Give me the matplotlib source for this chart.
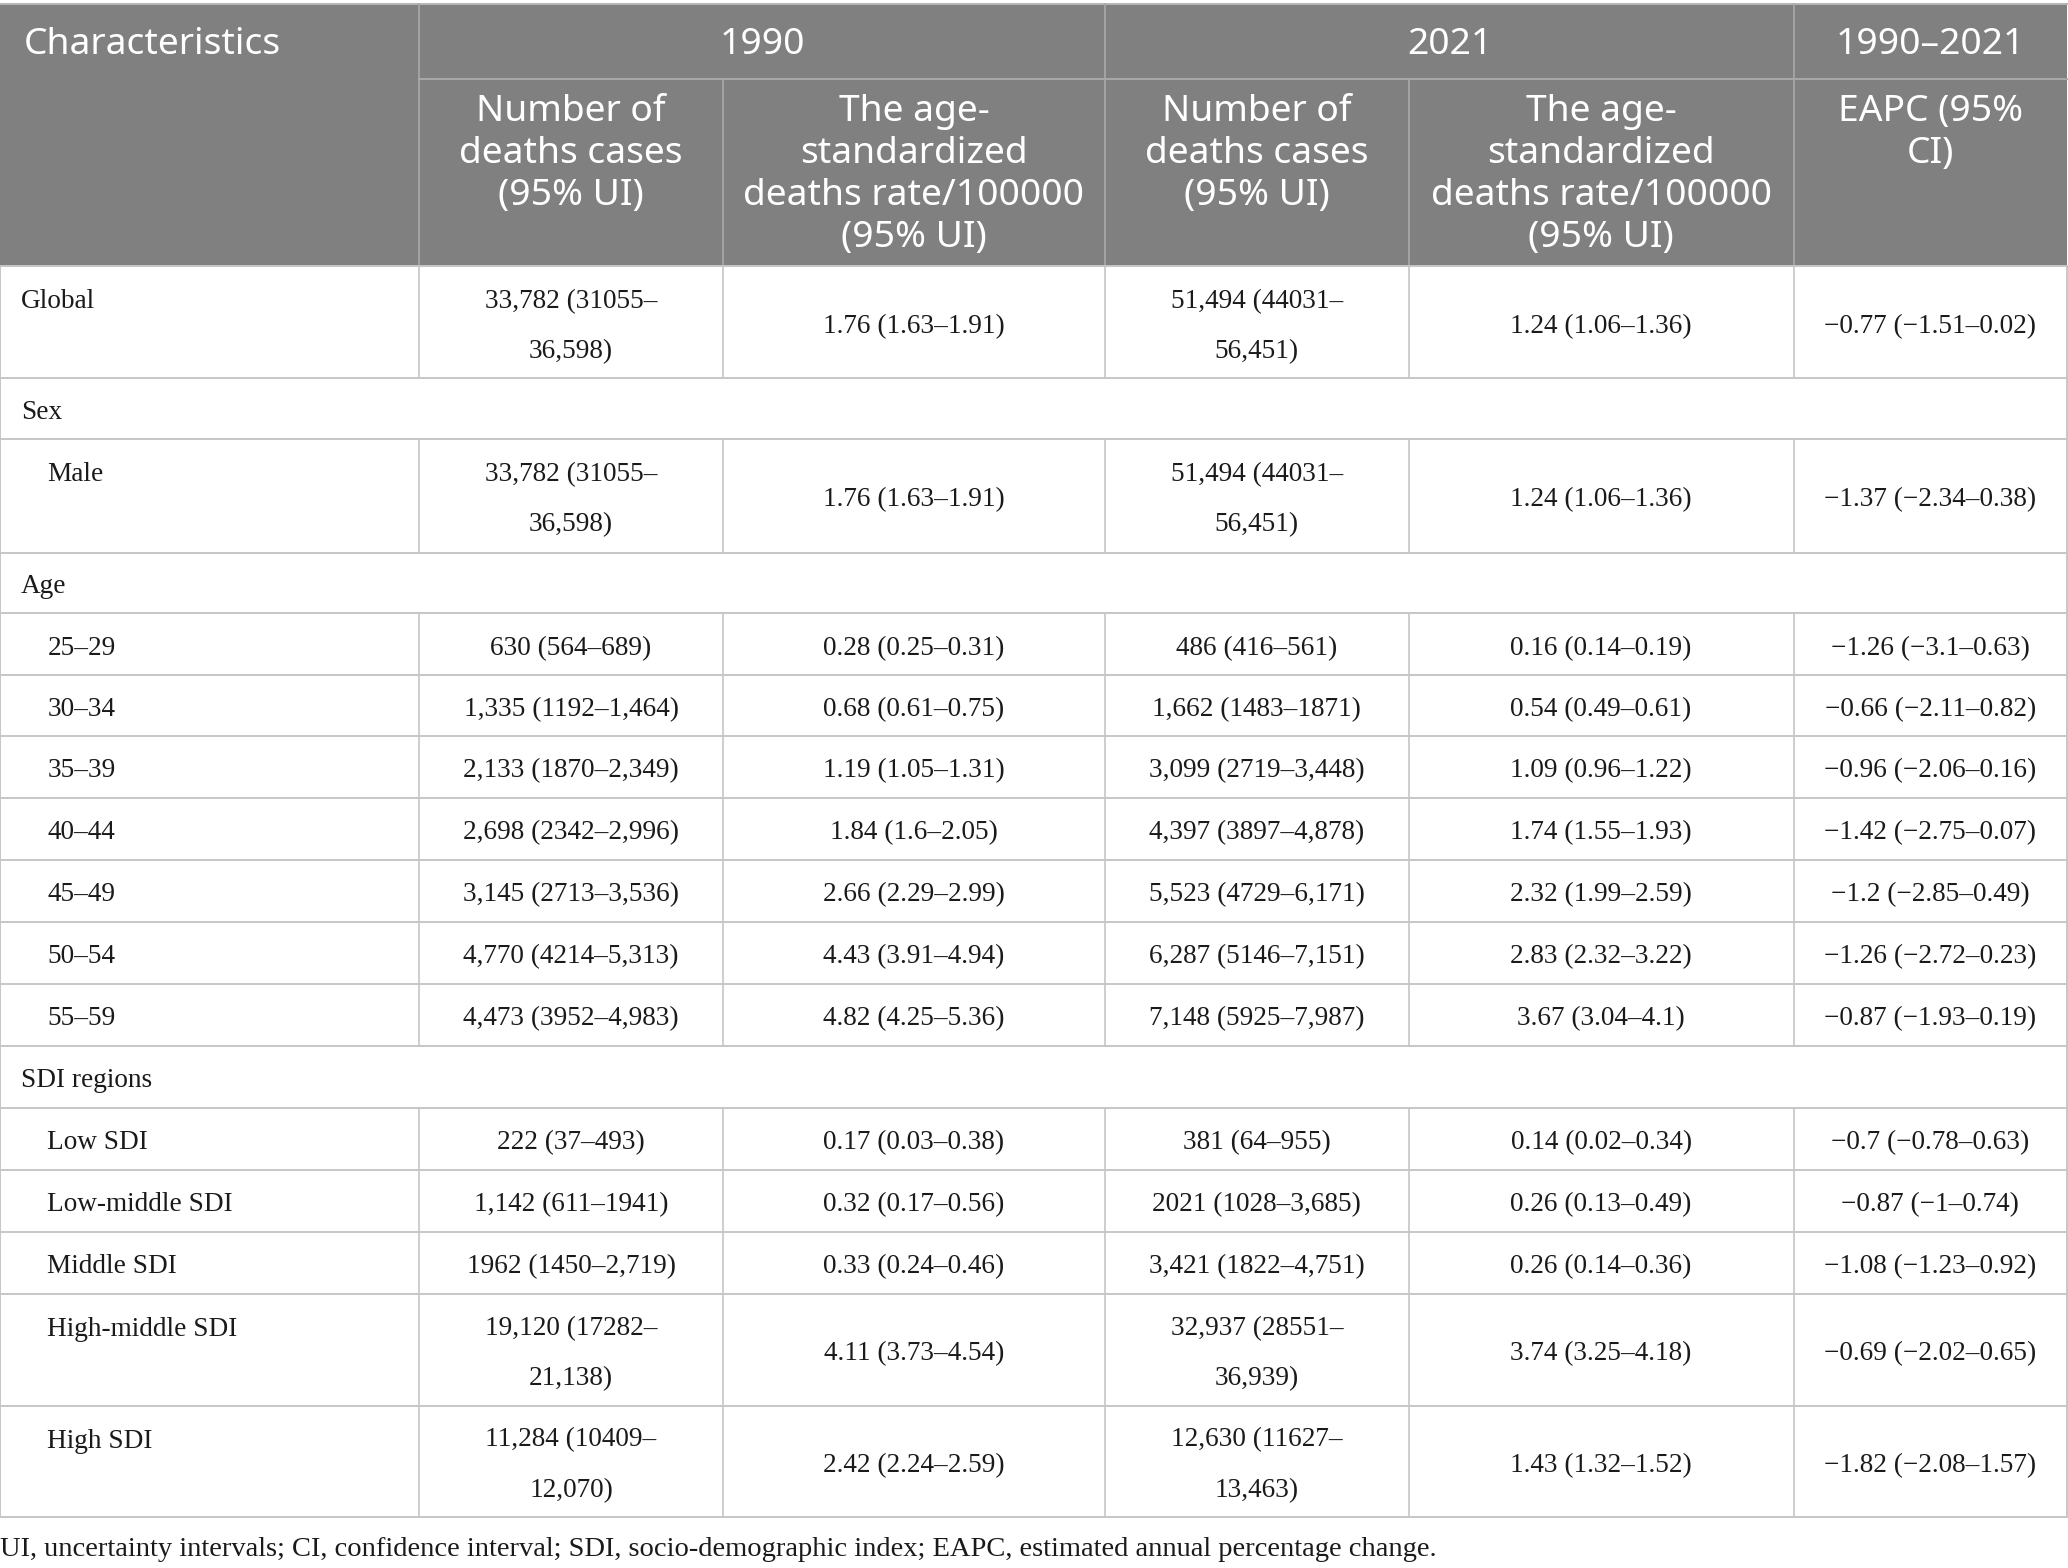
import matplotlib.pyplot as plt
from matplotlib.patches import Rectangle

# table text
row_labels = ["Global", "Sex", "Male", "Age", "25–29", "30–34", "35–39", "40–44",
              "45–49", "50–54", "55–59", "SDI regions", "Low SDI", "Low-middle SDI",
              "Middle SDI", "High-middle SDI", "High SDI"]
section_rows = ["Sex", "Age", "SDI regions"]
top_level = ["Global", "Sex", "Age", "SDI regions"]

deaths_1990 = ["33,782 (31055–\n36,598)", "", "33,782 (31055–\n36,598)", "",
               "630 (564–689)", "1,335 (1192–1,464)", "2,133 (1870–2,349)",
               "2,698 (2342–2,996)", "3,145 (2713–3,536)", "4,770 (4214–5,313)",
               "4,473 (3952–4,983)", "", "222 (37–493)", "1,142 (611–1941)",
               "1962 (1450–2,719)", "19,120 (17282–\n21,138)", "11,284 (10409–\n12,070)"]
asr_1990 = ["1.76 (1.63–1.91)", "", "1.76 (1.63–1.91)", "",
            "0.28 (0.25–0.31)", "0.68 (0.61–0.75)", "1.19 (1.05–1.31)",
            "1.84 (1.6–2.05)", "2.66 (2.29–2.99)", "4.43 (3.91–4.94)",
            "4.82 (4.25–5.36)", "", "0.17 (0.03–0.38)", "0.32 (0.17–0.56)",
            "0.33 (0.24–0.46)", "4.11 (3.73–4.54)", "2.42 (2.24–2.59)"]
deaths_2021 = ["51,494 (44031–\n56,451)", "", "51,494 (44031–\n56,451)", "",
               "486 (416–561)", "1,662 (1483–1871)", "3,099 (2719–3,448)",
               "4,397 (3897–4,878)", "5,523 (4729–6,171)", "6,287 (5146–7,151)",
               "7,148 (5925–7,987)", "", "381 (64–955)", "2021 (1028–3,685)",
               "3,421 (1822–4,751)", "32,937 (28551–\n36,939)", "12,630 (11627–\n13,463)"]
asr_2021 = ["1.24 (1.06–1.36)", "", "1.24 (1.06–1.36)", "",
            "0.16 (0.14–0.19)", "0.54 (0.49–0.61)", "1.09 (0.96–1.22)",
            "1.74 (1.55–1.93)", "2.32 (1.99–2.59)", "2.83 (2.32–3.22)",
            "3.67 (3.04–4.1)", "", "0.14 (0.02–0.34)", "0.26 (0.13–0.49)",
            "0.26 (0.14–0.36)", "3.74 (3.25–4.18)", "1.43 (1.32–1.52)"]
eapc = ["−0.77 (−1.51–0.02)", "", "−1.37 (−2.34–0.38)", "",
        "−1.26 (−3.1–0.63)", "−0.66 (−2.11–0.82)", "−0.96 (−2.06–0.16)",
        "−1.42 (−2.75–0.07)", "−1.2 (−2.85–0.49)", "−1.26 (−2.72–0.23)",
        "−0.87 (−1.93–0.19)", "", "−0.7 (−0.78–0.63)", "−0.87 (−1–0.74)",
        "−1.08 (−1.23–0.92)", "−0.69 (−2.02–0.65)", "−1.82 (−2.08–1.57)"]

year_heads = ["1990", "2021", "1990–2021"]
sub_heads = ["Number of\ndeaths cases\n(95% UI)",
             "The age-\nstandardized\ndeaths rate/100000\n(95% UI)",
             "Number of\ndeaths cases\n(95% UI)",
             "The age-\nstandardized\ndeaths rate/100000\n(95% UI)",
             "EAPC (95%\nCI)"]
footnote = ("UI, uncertainty intervals; CI, confidence interval; SDI, socio-demographic "
            "index; EAPC, estimated annual percentage change.")

# layout (units of the 1568-wide grid)
W, H = 1568, 1189
col_x = [0, 318, 548, 838, 1068, 1360, 1567]
row_y = [202, 287, 333, 419, 465, 512, 558, 605, 652, 699, 746, 793, 840, 887,
         934, 981, 1066, 1150]
head_top, head_mid = 3, 60
hdr_gray = "#808080"
hdr_line = "#a9a9a9"
grid = "#c6c6c6"
txt = "#1a1a1a"
sans = "Noto Sans"
serif = "Liberation Serif"
fs_head = 26.8
fs_body = 19.6
dy = 3  # small downward nudge for centred text

fig = plt.figure(figsize=(20.68, 15.68), dpi=100)
ax = fig.add_axes([0, 0, 1, 1])
ax.set_xlim(0, W)
ax.set_ylim(H, 0)
ax.axis("off")

# header block
ax.add_patch(Rectangle((0, head_top), col_x[-1], row_y[0] - head_top,
                       facecolor=hdr_gray, edgecolor="none"))
ax.plot([0, col_x[-1]], [head_top, head_top], color="#b5b5b5", lw=1.4)
ax.plot([col_x[1], col_x[-1]], [head_mid, head_mid], color=hdr_line, lw=1.4)
for i in (1, 3, 5):
    ax.plot([col_x[i]] * 2, [head_top, row_y[0]], color=hdr_line, lw=1.2)
for i in (2, 4):
    ax.plot([col_x[i]] * 2, [head_mid, row_y[0]], color=hdr_line, lw=1.2)

ax.text(18, 31 + dy, "Characteristics", color="white", fontsize=fs_head,
        family=sans, ha="left", va="center")
spans = [(1, 3), (3, 5), (5, 6)]
for (a, b), t in zip(spans, year_heads):
    ax.text((col_x[a] + col_x[b]) / 2, 31 + dy, t, color="white", fontsize=fs_head,
            family=sans, ha="center", va="center")
for j, t in enumerate(sub_heads):
    cx = (col_x[j + 1] + col_x[j + 2]) / 2
    for k, line in enumerate(t.split("\n")):
        ax.text(cx, 82 + dy + k * 31.7, line, color="white", fontsize=fs_head,
                family=sans, ha="center", va="center")

# body
columns = [deaths_1990, asr_1990, deaths_2021, asr_2021, eapc]
for r, lab in enumerate(row_labels):
    y0, y1 = row_y[r], row_y[r + 1]
    yc = (y0 + y1) / 2 + dy
    two = any("\n" in c[r] for c in columns)
    x_lab = 16 if lab in top_level else 36
    ax.text(x_lab, y0 + 24 + dy if two else yc, lab, color=txt, fontsize=fs_body,
            family=serif, ha="left", va="center")
    if lab not in section_rows:
        for i in range(1, 6):
            ax.plot([col_x[i]] * 2, [y0, y1], color=grid, lw=1.2)
    for j, c in enumerate(columns):
        cx = (col_x[j + 1] + col_x[j + 2]) / 2
        parts = c[r].split("\n") if c[r] else []
        for k, line in enumerate(parts):
            yy = yc + (k - (len(parts) - 1) / 2) * 38
            ax.text(cx, yy, line, color=txt, fontsize=fs_body, family=serif,
                    ha="center", va="center")
for y in row_y:
    ax.plot([0, col_x[-1]], [y, y], color=grid, lw=1.4)
ax.plot([0, 0], [row_y[0], row_y[-1]], color=grid, lw=1.4)
ax.plot([col_x[-1]] * 2, [row_y[0], row_y[-1]], color=grid, lw=1.4)

ax.text(0, 1172 + dy, footnote, color=txt, fontsize=20.5, family=serif,
        ha="left", va="center")

fig.savefig("out.png", dpi=100, facecolor="white")
